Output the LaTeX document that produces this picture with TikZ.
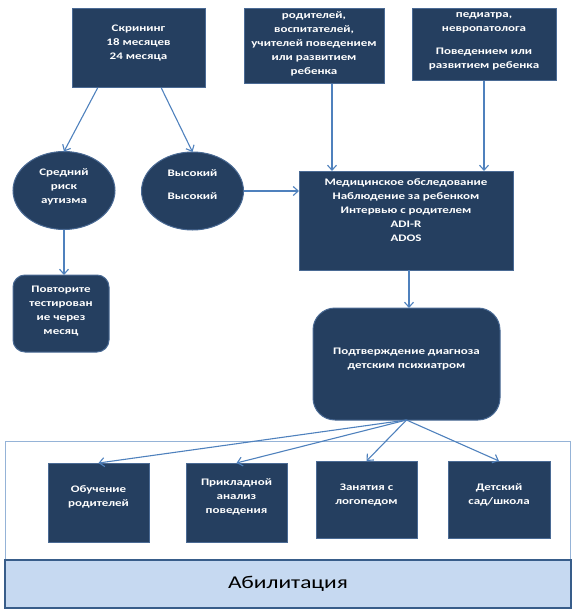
\documentclass[tikz,border=0pt]{standalone}
\usepackage{fontspec}
\setmainfont{Carlito}[FakeStretch=1.3]
\usetikzlibrary{shapes.geometric,arrows.meta}
\definecolor{navy}{RGB}{37,63,96}
\definecolor{edgeblue}{RGB}{74,106,148}
\definecolor{linkblue}{RGB}{79,129,189}
\definecolor{paleblue}{RGB}{198,217,241}
\definecolor{framblue}{RGB}{149,179,215}
\definecolor{bandblue}{RGB}{56,93,138}
\begin{document}
\begin{tikzpicture}[x=1pt,y=-1pt,
  box/.style={draw=edgeblue,line width=1pt,fill=navy,inner sep=0pt,outer sep=0pt},
  oval/.style={box,ellipse},
  txt/.style={text=white,font=\fontsize{10}{14}\selectfont\bfseries,align=center,inner sep=0pt},
  arr/.style={draw=linkblue,line width=1.1pt,-{Straight Barb[length=5pt,width=9pt]}}]
\useasboundingbox (0,0) rectangle (574,615);
% top row
\node[box,minimum width=133pt,minimum height=79pt] (scr) at (138.5,48.5) {};
\node[box,minimum width=140pt,minimum height=75pt] (par) at (314,46.5) {};
\node[box,minimum width=144pt,minimum height=72pt] (ped) at (484,45) {};
\node[txt] (scrtxt) at (138.5,43) {Скрининг\\18 месяцев\\24 месяца};
\node[txt] (partxt) at (314,43.5) {родителей,\\воспитателей,\\учителей поведением\\или развитием\\ребенка};
\node[txt] (pedtxt) at (484,41) {педиатра,\\невропатолога\\[9pt]Поведением или\\развитием ребенка};
% risk
\node[oval,minimum width=102pt,minimum height=78pt] (mid) at (64,190.5) {};
\node[oval,minimum width=102pt,minimum height=78pt] (high) at (192.5,191) {};
\node[txt] (midtxt) at (64,187) {Средний\\риск\\аутизма};
\node[txt] (hightxt) at (192.5,184.5) {Высокий\\[9pt]Высокий};
\node[box,rounded corners=12pt,minimum width=96pt,minimum height=77pt] (rep) at (61,313.5) {};
\node[txt] (reptxt) at (61,311) {Повторите\\тестирован\\ие через\\месяц};
% diagnosis
\node[box,minimum width=214pt,minimum height=99pt] (med) at (406,220.5) {};
\node[txt] (medtxt) at (406,210.5) {Медицинское обследование\\Наблюдение за ребенком\\Интервью с родителем\\ADI-R\\ADOS};
\node[box,rounded corners=22pt,minimum width=187pt,minimum height=112pt] (diag) at (406.5,364) {};
\node[txt] (diagtxt) at (406.5,359) {Подтверждение диагноза\\детским психиатром};
% habilitation
\draw[framblue,line width=0.8pt] (5,441) rectangle (570,560);
\node[draw=bandblue,line width=1.2pt,fill=paleblue,minimum width=566pt,minimum height=48pt,
  font=\fontsize{18}{20}\selectfont] (abil) at (288,584) {Абилитация};
\node[box,minimum width=101pt,minimum height=79pt] (ob) at (98.5,502.5) {};
\node[box,minimum width=101pt,minimum height=79pt] (pr) at (236.5,502.5) {};
\node[box,minimum width=101pt,minimum height=77pt] (za) at (366.5,499.5) {};
\node[box,minimum width=102pt,minimum height=77pt] (de) at (499,499.5) {};
\node[txt] (obtxt) at (98.5,497) {Обучение\\родителей};
\node[txt] (prtxt) at (236.5,496.5) {Прикладной\\анализ\\поведения};
\node[txt] (zatxt) at (366.5,495) {Занятия с\\логопедом};
\node[txt] (detxt) at (499,495) {Детский\\сад/школа};
% connectors
\draw[arr] (scr.224) -- (mid.north);
\draw[arr] (scr.-60) -- (high.north);
\draw[arr] (mid.south) -- (mid.south |- rep.north);
\draw[arr] (high.east) -- (high.east -| med.west);
\draw[arr] ([xshift=18pt]par.south) -- ([xshift=18pt]par.south |- med.north);
\draw[arr] (ped.south) -- (ped.south |- med.north);
\draw[arr] ([xshift=3pt]med.south) -- ([xshift=3pt]med.south |- diag.north);
\foreach \t in {ob,pr,za,de} {
\draw[arr] (diag.south) -- (\t.north);
}
\end{tikzpicture}
\end{document}
